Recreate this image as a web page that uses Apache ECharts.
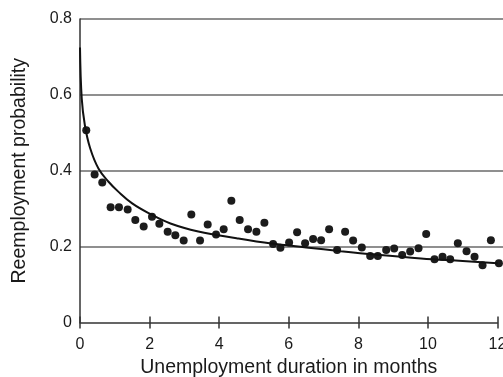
<!DOCTYPE html>
<html>
<head>
<meta charset="utf-8">
<script src="https://cdn.jsdelivr.net/npm/echarts@6/dist/echarts.min.js"></script>
<style>
html,body{margin:0;padding:0;background:#fff;}
#c{width:503px;height:377px;}
</style>
</head>
<body>
<div id="c"></div>
<script>
// Observed reemployment probabilities (scatter)
const obsMonths = [0.18,0.42,0.64,0.88,1.12,1.37,1.59,1.83,2.07,2.28,2.52,2.74,2.98,3.20,3.45,3.67,3.91,4.13,4.35,4.59,4.83,5.07,5.30,5.55,5.76,6.01,6.24,6.47,6.70,6.93,7.16,7.39,7.62,7.85,8.10,8.34,8.56,8.80,9.03,9.26,9.49,9.73,9.95,10.19,10.42,10.64,10.86,11.11,11.34,11.57,11.81,12.04];
const obsProb = [0.507,0.390,0.369,0.304,0.304,0.298,0.270,0.253,0.279,0.260,0.239,0.230,0.216,0.285,0.216,0.258,0.232,0.246,0.321,0.270,0.246,0.239,0.263,0.207,0.197,0.211,0.238,0.209,0.220,0.217,0.246,0.191,0.239,0.216,0.198,0.175,0.175,0.191,0.195,0.178,0.187,0.196,0.233,0.167,0.173,0.167,0.209,0.188,0.173,0.151,0.217,0.156];
// Fitted curve
const fitMonths = [0,0.05,0.14,0.29,0.53,0.82,1.1,1.5,2,2.6,3.4,4.5,5.5,6.5,7.5,8.5,9.8,11,12];
const fitProb = [0.725,0.59,0.52,0.46,0.406,0.371,0.345,0.314,0.287,0.261,0.24,0.222,0.208,0.198,0.188,0.179,0.169,0.162,0.156];
// Axis ticks
const xTicks = [0,2,4,6,8,10,12];
const yTicks = [0,0.2,0.4,0.6,0.8];

const FONT = '"Liberation Sans", Arial, Helvetica, sans-serif';
const chart = echarts.init(document.getElementById('c'), null, {renderer:'canvas'});
chart.setOption({
  animation:false,
  backgroundColor:'#fff',
  grid:[
    {left:80, right:5.5, top:19, bottom:54.5, outerBoundsMode:'none', containLabel:false},
    {left:80, right:0, top:19, bottom:130.4, outerBoundsMode:'none', containLabel:false}
  ],
  xAxis:[
    {gridIndex:0, type:'value', min:xTicks[0], max:xTicks[xTicks.length-1], interval:2, position:'bottom',
     axisLine:{show:true, lineStyle:{color:'#333', width:1.5}},
     axisTick:{show:true, length:6, lineStyle:{color:'#333', width:1.5}},
     axisLabel:{color:'#1a1a1a', fontSize:16, fontFamily:FONT, margin:14, hideOverlap:false},
     splitLine:{show:false},
     name:'Unemployment duration in months', nameLocation:'middle', nameGap:30,
     nameTextStyle:{color:'#1a1a1a', fontSize:19.5, fontFamily:FONT}},
    {gridIndex:0, type:'value', min:0, max:12, interval:2, position:'bottom',
     axisLine:{show:false}, axisTick:{show:true, inside:true, length:6, lineStyle:{color:'#333', width:1.5}},
     axisLabel:{show:false}, splitLine:{show:false}},
    {gridIndex:1, type:'value', min:0, max:12, show:false}
  ],
  yAxis:[
    {gridIndex:0, type:'value', min:yTicks[0], max:yTicks[yTicks.length-1], interval:0.2,
     axisLine:{show:true, lineStyle:{color:'#333', width:1.5}},
     axisTick:{show:false},
     axisLabel:{color:'#1a1a1a', fontSize:16, fontFamily:FONT, margin:8,
       formatter:function(v){return v===0?'0':v.toFixed(1);}},
     splitLine:{show:false},
     name:'Reemployment probability', nameLocation:'middle', nameGap:50,
     nameTextStyle:{color:'#1a1a1a', fontSize:19.5, fontFamily:FONT}},
    {gridIndex:1, type:'value', min:0.2, max:0.8, interval:0.2,
     axisLine:{show:false}, axisTick:{show:false}, axisLabel:{show:false},
     splitLine:{show:true, lineStyle:{color:'#6a6a6a', width:1.6}}}
  ],
  series:[
    {type:'line', xAxisIndex:2, yAxisIndex:1, data:[], silent:true},
    {type:'line', xAxisIndex:0, yAxisIndex:0, smooth:0.4, showSymbol:false, symbol:'none',
     lineStyle:{color:'#111', width:2}, clip:false,
     data:fitMonths.map((m,i)=>[m,fitProb[i]])},
    {type:'scatter', xAxisIndex:0, yAxisIndex:0, symbol:'circle', symbolSize:8, clip:false,
     itemStyle:{color:'#1c1c1c', opacity:1},
     data:obsMonths.map((m,i)=>[m,obsProb[i]])}
  ]
});
</script>
</body>
</html>
